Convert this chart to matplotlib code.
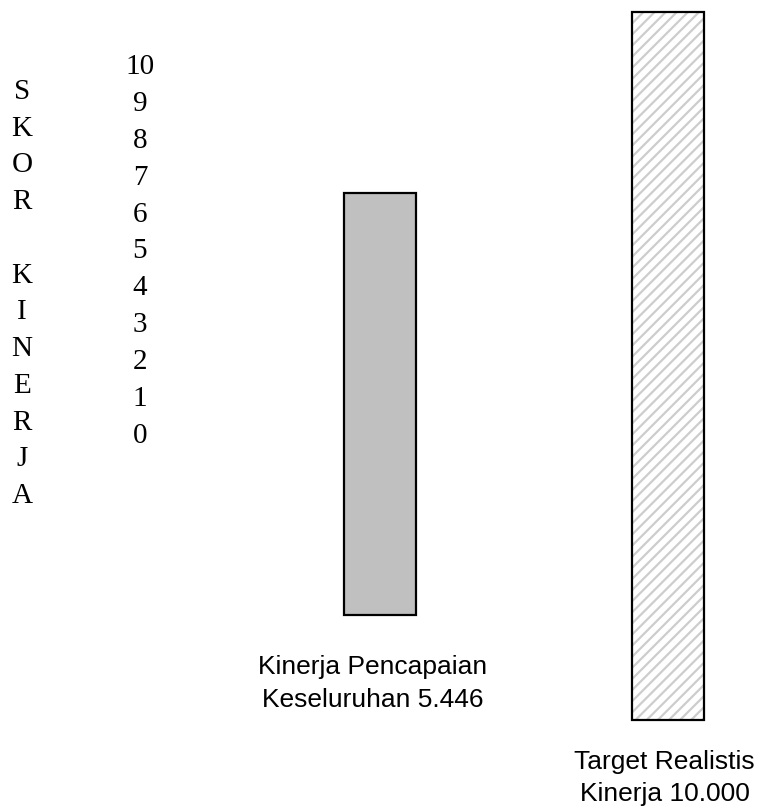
import matplotlib
matplotlib.use("Agg")
from matplotlib import pyplot as plt

# chart data
bar_names = ["Kinerja Pencapaian\nKeseluruhan", "Target Realistis\nKinerja"]
bar_values = [5.446, 10.000]
bar_bottoms = [1.48, 0.0]     # where each drawn bar starts on the score axis
bar_tops = [7.44, 10.0]       # where each drawn bar ends on the score axis
scale_ticks = list(range(0, 11))
axis_title = "SKOR KINERJA"

W, H = 761, 808
fig = plt.figure(figsize=(W / 100, H / 100), dpi=100)
fig.patch.set_facecolor("white")

plt.rcParams["hatch.linewidth"] = 1.6

# main axes holding the bars (invisible frame)
ax = fig.add_axes([0, 0, 1, 1])
px_x = 288.0   # pixels per category step
px_y = 70.8    # pixels per score unit
ax.set_xlim(-379.5 / px_x, (W - 379.5) / px_x)
ax.set_ylim(-88 / px_y, 10 + 12 / px_y)
ax.axis("off")

heights = [t - b for t, b in zip(bar_tops, bar_bottoms)]
bw = 72 / px_x
# first bar: plain grey fill
ax.bar(0, heights[0], bottom=bar_bottoms[0], width=bw, color="#c0c0c0",
       edgecolor="black", linewidth=1.6, zorder=2)
# second bar: light diagonal hatch, then black outline on top
ax.bar(1, heights[1], bottom=bar_bottoms[1], width=bw, color="white",
       hatch="///", edgecolor="#cdcdcd", linewidth=0, zorder=2)
ax.bar(1, heights[1], bottom=bar_bottoms[1], width=bw, fill=False,
       edgecolor="black", linewidth=1.6, zorder=3)

# labels under the bars
offsets = [(-7, -68), (-3, -58)]
for i, (name, v, b) in enumerate(zip(bar_names, bar_values, bar_bottoms)):
    ax.annotate("{} {:.3f}".format(name, v), xy=(i, b), xytext=offsets[i],
                textcoords="offset pixels", ha="center", va="center",
                family="Liberation Sans", fontsize=19, linespacing=1.46)

# score column 10..0
ax_scale = fig.add_axes([140 / W, 1 - 433 / H, 0.01, (433 - 64) / H])
ax_scale.set_ylim(0, 10)
ax_scale.set_yticks(scale_ticks)
ax_scale.set_yticklabels([str(t) for t in scale_ticks], family="Liberation Serif",
                         fontsize=21)
ax_scale.tick_params(axis="y", length=0, pad=0)
for lab in ax_scale.get_yticklabels():
    lab.set_ha("center")
ax_scale.set_xticks([])
for s in ax_scale.spines.values():
    s.set_visible(False)
ax_scale.patch.set_alpha(0)

# vertical stacked title
fig.text(22 / W, 1 - 294 / H, "\n".join(list(axis_title)), ha="center", va="center",
         family="Liberation Serif", fontsize=21, linespacing=1.538,
         multialignment="center")

fig.savefig("out.png", dpi=100, facecolor="white")
